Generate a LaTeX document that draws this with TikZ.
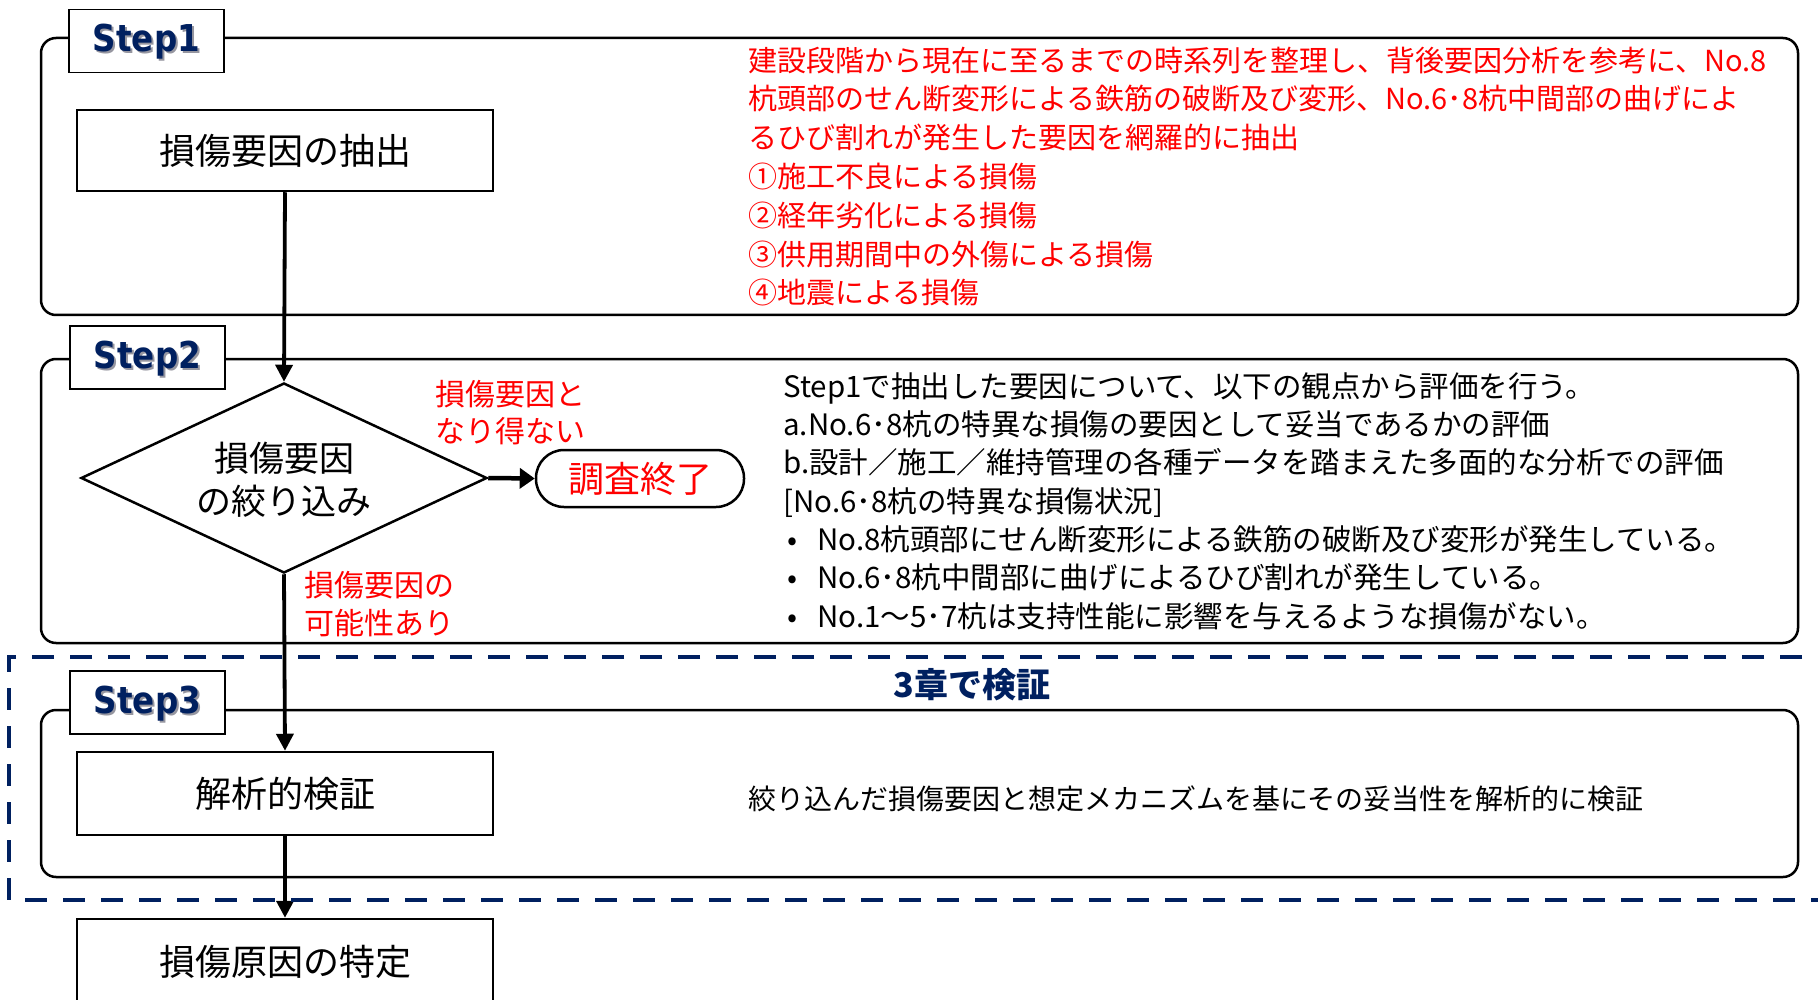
\documentclass[tikz,border=0pt]{standalone}
\usepackage{fontspec}
\setmainfont{Noto Sans CJK JP}
\newfontfamily\stepfont{DejaVu Sans}[FakeStretch=0.88]
\usetikzlibrary{arrows.meta,shapes.geometric}
\definecolor{navy}{RGB}{0,32,96}
\definecolor{myred}{RGB}{255,0,0}
\definecolor{shadowgray}{RGB}{150,150,160}
\begin{document}
\begin{tikzpicture}[x=1pt,y=-1pt,
  panel/.style={draw=black, line width=2.5pt, rounded corners=15pt, minimum width=1757pt, inner sep=0pt},
  steplabel/.style={draw=black, line width=1.8pt, fill=white, inner sep=0pt, minimum width=155pt, minimum height=63pt},
  steptext/.style={font=\stepfont\bfseries\fontsize{37}{37}\selectfont, text=navy, inner sep=0pt},
  stepshadow/.style={font=\stepfont\bfseries\fontsize{37}{37}\selectfont, text=shadowgray, inner sep=0pt},
  procbox/.style={draw=black, line width=2.5pt, fill=white, inner sep=0pt, minimum width=416pt, font=\fontsize{36}{36}\selectfont},
  flow/.style={line width=3.8pt, -{Triangle[length=17pt,width=17pt]}},
  redtxt/.style={text=myred, inner sep=0pt, align=left, anchor=west},
  blktxt/.style={text=black, inner sep=0pt, align=left, anchor=west},
  dashframe/.style={draw=navy, line width=4.5pt, dash pattern=on 22pt off 16pt}
]
\useasboundingbox (0,0) rectangle (1818,1000);

% panels
\node[panel, minimum height=277pt] (p1) at (919.5,176.5) {};
\node[panel, minimum height=284pt] (p2) at (919.5,501) {};
\node[panel, minimum height=167pt] (p3) at (919.5,793.5) {};

% step labels
\node[steplabel] (s1) at (146.5,41) {};
\node[stepshadow] (s1s) at (148.5,44) {Step1};
\node[steptext] (s1t) at (146.5,42) {Step1};
\node[steplabel] (s2) at (147.5,357.5) {};
\node[stepshadow] (s2s) at (149.5,360.5) {Step2};
\node[steptext] (s2t) at (147.5,358.5) {Step2};
\node[steplabel] (s3) at (147.5,702.5) {};
\node[stepshadow] (s3s) at (149.5,705.5) {Step3};
\node[steptext] (s3t) at (147.5,703.5) {Step3};

% process boxes
\node[procbox, minimum height=81pt] (b1) at (285,150.5) {損傷要因の抽出};
\node[diamond, draw=black, line width=2.5pt, fill=white, minimum width=406pt, minimum height=190pt, inner sep=0pt] (dec) at (284,478) {};
\node[align=center, inner sep=0pt, font=\fontsize{35}{43}\selectfont] (dect) at (284,479.5) {損傷要因\\の絞り込み};
\node[draw=black, line width=2.5pt, fill=white, rounded corners=28pt, minimum width=208pt, minimum height=57pt, inner sep=0pt, text=myred, font=\fontsize{36}{36}\selectfont] (term) at (640,478.5) {調査終了};
\node[procbox, minimum height=83pt] (b3) at (285,793.5) {解析的検証};
\node[procbox, minimum height=86pt] (b4) at (285,962) {損傷原因の特定};

% connectors
\draw[flow] (b1.south) -- (dec.north);
\draw[line width=4.5pt, -{Triangle[length=15pt,width=20pt]}] (dec.east) -- (term.west);
\draw[flow] (dec.south) -- (b3.north);
\draw[flow] (b3.south) -- (b4.north);

% branch labels
\node[redtxt, font=\fontsize{30}{37}\selectfont] (lno) at (435,412.5) {損傷要因と\\なり得ない};
\node[redtxt, font=\fontsize{30}{38}\selectfont] (lyes) at (304,604) {損傷要因の\\可能性あり};

% step1 description
\node[redtxt, font=\fontsize{29}{38.8}\selectfont] (d1) at (748,176.5) {建設段階から現在に至るまでの時系列を整理し、背後要因分析を参考に、No.8\\杭頭部のせん断変形による鉄筋の破断及び変形、No.6･8杭中間部の曲げによ\\るひび割れが発生した要因を網羅的に抽出\\①施工不良による損傷\\②経年劣化による損傷\\③供用期間中の外傷による損傷\\④地震による損傷};

% step2 description
\node[blktxt, font=\fontsize{29.5}{38.3}\selectfont] (d2) at (783,501) {Step1で抽出した要因について、以下の観点から評価を行う。\\a.No.6･8杭の特異な損傷の要因として妥当であるかの評価\\b.設計／施工／維持管理の各種データを踏まえた多面的な分析での評価\\{[}No.6･8杭の特異な損傷状況{]}\\\makebox[34pt][l]{\hspace{4pt}•}No.8杭頭部にせん断変形による鉄筋の破断及び変形が発生している。\\\makebox[34pt][l]{\hspace{4pt}•}No.6･8杭中間部に曲げによるひび割れが発生している。\\\makebox[34pt][l]{\hspace{4pt}•}No.1～5･7杭は支持性能に影響を与えるような損傷がない。};

% step3 description
\node[blktxt, font=\fontsize{28}{28}\selectfont] (d3) at (748,799) {絞り込んだ損傷要因と想定メカニズムを基にその妥当性を解析的に検証};

% chapter 3 frame
\coordinate (fa) at (1840,657);
\coordinate (fb) at (9,657);
\coordinate (fc) at (9,900);
\coordinate (fd) at (1840,900);
\draw[dashframe] (fa) -- (fb) -- (fc) -- (fd);
\node[text=navy, inner sep=0pt, font=\bfseries\fontsize{34}{34}\selectfont] (ch3) at (972,685) {3章で検証};
\end{tikzpicture}
\end{document}
